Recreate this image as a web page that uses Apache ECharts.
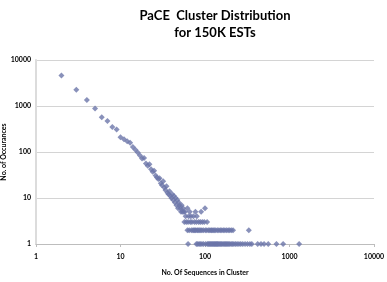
<!DOCTYPE html>
<html>
<head>
<meta charset="utf-8">
<script src="https://cdn.jsdelivr.net/npm/echarts@6/dist/echarts.min.js"></script>
<style>
  html, body { margin: 0; padding: 0; background: #fff; }
  #chart { width: 387px; height: 282px; }
</style>
</head>
<body>
<div id="chart"></div>
<script>
// cluster size -> number of occurrences
const diagSizes = [2, 3, 4, 5, 6, 7, 8, 9, 10, 11, 12, 13, 14, 15, 16, 17, 18, 19, 20,
  21, 22, 23, 24, 25, 26, 27, 28, 29, 30, 31, 32, 33, 34, 35, 36, 37, 38, 39, 40,
  41, 42, 43, 44, 45, 46, 47, 48, 49, 50, 51, 52, 53, 54, 55, 56];
const diagCounts = [4600, 2250, 1350, 880, 570, 470, 350, 310, 210, 190, 172, 158, 128, 112, 98, 84, 72, 74, 56,
  50, 54, 42, 37, 39, 31, 28, 26, 27, 21, 19, 23, 17, 15, 18, 13, 12, 14, 11, 10,
  12, 9, 11, 8, 10, 7, 9, 6, 8, 7, 6, 5, 7, 5, 6, 5];

const sizesSix = [62, 100];
const sizesFive = [58, 66, 77, 90];
const sizesFour = [59, 64, 68, 73, 80];
const sizesThree = [57, 60, 63, 67, 70, 75, 79, 84, 88, 93, 98, 106];
const sizesTwo = [62, 65, 69, 72, 74, 76, 78, 81, 83, 86, 89, 92, 96, 101,
  105, 110, 114, 118, 121, 125, 129, 134, 140, 146, 152, 158, 165,
  172, 180, 188, 196, 205, 215, 330];
const sizesOne = [63, 79, 82, 85, 88, 92, 96, 102, 107, 110, 113, 116, 119, 122, 125,
  128, 131, 134, 137, 140, 143, 147, 151, 155, 159, 164, 169, 174, 179, 185, 191,
  197, 204, 212, 220, 230, 240, 252, 265, 280, 298, 318, 340, 358, 420, 460,
  500, 560, 700, 840, 1300];

const xTicks = [1, 10, 100, 1000, 10000];

const points = diagSizes.map((s, i) => [s, diagCounts[i]])
  .concat(sizesSix.map(s => [s, 6]))
  .concat(sizesFive.map(s => [s, 5]))
  .concat(sizesFour.map(s => [s, 4]))
  .concat(sizesThree.map(s => [s, 3]))
  .concat(sizesTwo.map(s => [s, 2]))
  .concat(sizesOne.map(s => [s, 1]));

const labelFont = { fontFamily: 'Lato', fontWeight: 'bold', fontSize: 7, color: '#000' };
const plain = v => String(v);

const chart = echarts.init(document.getElementById('chart'));
chart.setOption({
  animation: false,
  title: {
    text: 'PaCE  Cluster Distribution\nfor 150K ESTs',
    left: 210,
    top: 2,
    textAlign: 'center',
    textStyle: { fontFamily: 'Lato', fontWeight: 'bold', fontSize: 13, lineHeight: 17, color: '#000' }
  },
  grid: { left: 36, right: 13, top: 60, bottom: 38, outerBoundsMode: 'none', containLabel: false },
  xAxis: {
    type: 'log',
    logBase: 10,
    min: xTicks[0],
    max: xTicks[xTicks.length - 1],
    name: 'No. Of Sequences in Cluster',
    nameLocation: 'middle',
    nameGap: 25,
    nameMoveOverlap: false,
    nameTextStyle: labelFont,
    axisLine: { lineStyle: { color: '#bdbdbd', width: 1 } },
    axisTick: { show: true, length: 3, lineStyle: { color: '#bdbdbd' } },
    axisLabel: Object.assign({ margin: 9, formatter: plain }, labelFont),
    splitLine: { show: false },
    minorTick: { show: false }
  },
  yAxis: {
    type: 'log',
    logBase: 10,
    min: 1,
    max: 10000,
    name: 'No. of Occurances',
    nameLocation: 'middle',
    nameGap: 29,
    nameMoveOverlap: false,
    nameTextStyle: labelFont,
    axisLine: { show: true, lineStyle: { color: '#dcdcdc', width: 2 } },
    axisTick: { show: false },
    axisLabel: Object.assign({ margin: 5, formatter: plain }, labelFont),
    splitLine: { show: true, lineStyle: { color: '#d4d4d4', width: 1 } }
  },
  series: [{
    type: 'scatter',
    data: points,
    symbol: 'diamond',
    symbolSize: 6,
    clip: false,
    itemStyle: { color: '#6b76a9' }
  }]
});
</script>
</body>
</html>
